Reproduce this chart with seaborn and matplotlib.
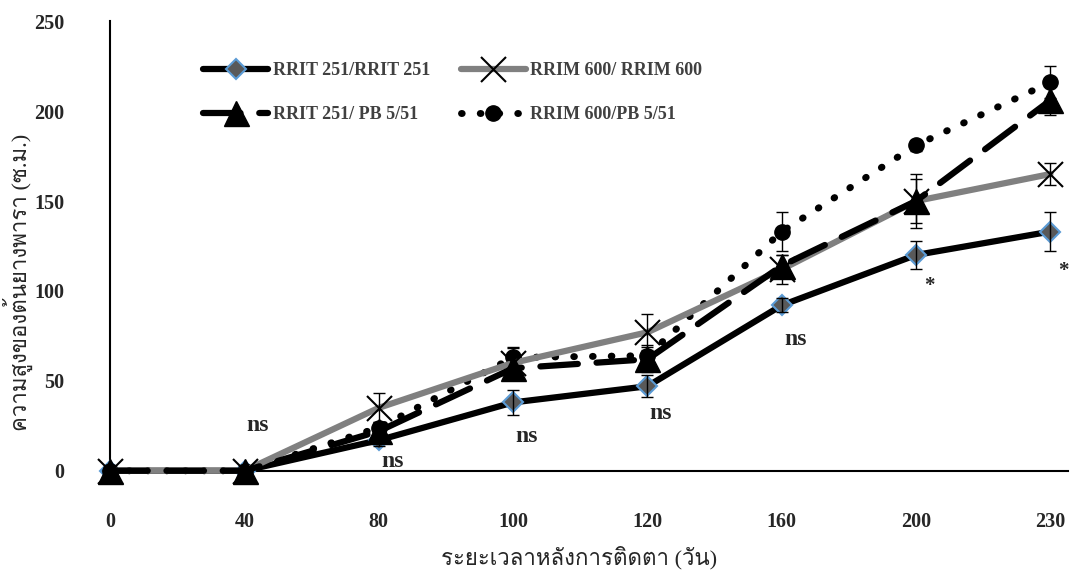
import numpy as np
import pandas as pd
import seaborn as sns
import matplotlib.pyplot as plt
from matplotlib import font_manager
from matplotlib.ft2font import FT2Font

days = ["0", "40", "80", "100", "120", "160", "200", "230"]
rrit_rrit = [0, 0, 17, 38, 47, 92, 120, 133]
rrim_rrim = [0, 0, 35, 60, 77, 112, 150, 165]
rrit_pb = [0, 0, 22, 57, 62, 114, 150, 206]
rrim_pb = [0, 0, 24, 63, 64, 133, 181, 216]
err_rrit_rrit = [0, 0, 3, 7, 6, 4, 8, 11]
err_rrim_rrim = [0, 0, 8, 8, 10, 8, 15, 6]
err_rrit_pb = [0, 0, 4, 6, 7, 6, 12, 8]
err_rrim_pb = [0, 0, 3, 6, 6, 11, 3, 9]
names = ["RRIT 251/RRIT 251", "RRIM 600/ RRIM 600", "RRIT 251/ PB 5/51", "RRIM 600/PB 5/51"]
notes = ["ns", "ns", "ns", "ns", "ns", "*", "*"]
note_pos = [1, 2, 3, 4, 5, 6, 7]
note_y = [25, 5, 19, 32, 73, 103, 111]

# pick a font that has Thai glyphs, if any is installed
thai_font = None
for f in font_manager.fontManager.ttflist:
    try:
        if 0x0E04 in FT2Font(f.fname).get_charmap():
            thai_font = f.name
            break
    except Exception:
        pass

sns.set_style("white")
fams = ["Liberation Serif"] + ([thai_font] if thai_font else []) + ["DejaVu Sans"]
plt.rcParams["font.family"] = fams
plt.rcParams["font.weight"] = "bold"

series = [rrit_rrit, rrim_rrim, rrit_pb, rrim_pb]
errs = [err_rrit_rrit, err_rrim_rrim, err_rrit_pb, err_rrim_pb]
df = pd.DataFrame({
    "pos": np.tile(np.arange(len(days)), 4),
    "height": np.concatenate(series),
    "graft": np.repeat(names, len(days)),
})

fig, ax = plt.subplots(figsize=(10.7, 5.72), dpi=100)
fig.subplots_adjust(left=0.103, right=0.998, top=0.963, bottom=0.177)

styles = {
    names[0]: dict(color="black", ls="-", lw=4.5, marker="D", ms=10, mfc="#595959", mec="#5b9bd5", mew=1.5, z=3),
    names[1]: dict(color="#808080", ls="-", lw=4.5, marker="x", ms=18, mfc="black", mec="black", mew=1.5, z=3.2),
    names[2]: dict(color="black", ls=(0, (6, 3)), lw=4.5, marker="^", ms=18, mfc="black", mec="black", mew=1, z=3.4),
    names[3]: dict(color="black", ls=(0, (0.1, 2.6)), lw=5, marker="o", ms=11, mfc="black", mec="black", mew=1, z=3.1),
}
for name, y, e in zip(names, series, errs):
    st = styles[name]
    sub = df[df["graft"] == name]
    sns.lineplot(data=sub, x="pos", y="height", ax=ax, label=name, color=st["color"],
                 linestyle=st["ls"], lw=st["lw"], marker=st["marker"],
                 markersize=st["ms"], markerfacecolor=st["mfc"], markeredgecolor=st["mec"],
                 markeredgewidth=st["mew"], dash_capstyle="round", solid_capstyle="round",
                 zorder=st["z"], clip_on=False)
    ax.errorbar(np.arange(len(days))[2:], y[2:], yerr=e[2:], fmt="none", ecolor="black",
                elinewidth=1, capsize=4, capthick=1, zorder=4)

for t, px, py in zip(notes, note_pos, note_y):
    ax.text(px + 0.1, py, t, ha="center", va="center", fontsize=17 if t == "ns" else 15,
            fontweight="bold")

ax.set_xlim(0, 7.13)
ax.set_ylim(0, 250)
ax.set_xticks(np.arange(len(days)))
ax.set_xticklabels(days)
ax.set_yticks(range(0, 251, 50))
ax.tick_params(axis="x", length=0, labelsize=14.5, pad=30)
ax.tick_params(axis="y", length=0, labelsize=14.5, pad=33)
for lab in ax.get_xticklabels() + ax.get_yticklabels():
    lab.set_fontweight("bold")
ax.set_xlabel("ระยะเวลาหลังการติดตา (วัน)", fontsize=16)
ax.set_ylabel("ความสูงของต้นยางพารา (ซ.ม.)", fontsize=16)
ax.xaxis.set_label_coords(0.49, -0.168)
ax.yaxis.set_label_coords(-0.081, 0.42)
for s in ["top", "right"]:
    ax.spines[s].set_visible(False)
for s in ["left", "bottom"]:
    ax.spines[s].set_color("black")
    ax.spines[s].set_linewidth(1.5)

handles, labels = ax.get_legend_handles_labels()
order = [0, 2, 1, 3]
leg = ax.legend([handles[i] for i in order], [labels[i] for i in order],
                loc="upper left", bbox_to_anchor=(0.08, 0.945), ncol=2, frameon=False,
                handlelength=3.6, columnspacing=1.7, labelspacing=1.5, handletextpad=0.25,
                prop={"weight": "bold", "size": 13})
for t in leg.get_texts():
    t.set_color("#404040")

fig.savefig("out.png", dpi=100)
